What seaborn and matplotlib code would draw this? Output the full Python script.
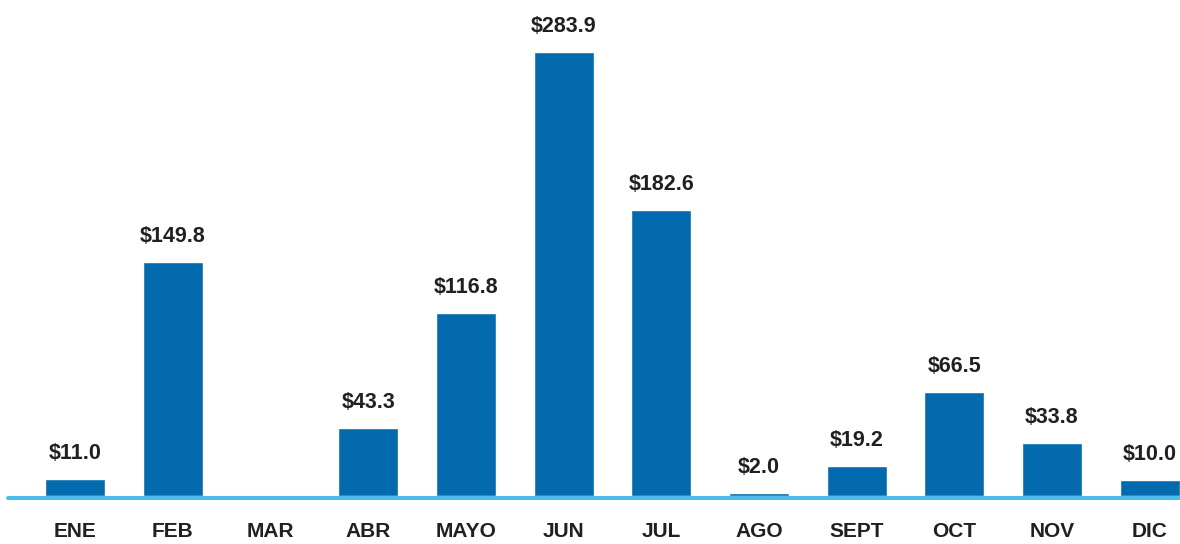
import numpy as np
import pandas as pd
import matplotlib
matplotlib.use("Agg")
import matplotlib.pyplot as plt
import seaborn as sns
from matplotlib import font_manager

months = ["ENE", "FEB", "MAR", "ABR", "MAYO", "JUN", "JUL", "AGO", "SEPT", "OCT", "NOV", "DIC"]
values = [11.0, 149.8, np.nan, 43.3, 116.8, 283.9, 182.6, 2.0, 19.2, 66.5, 33.8, 10.0]

sns.set_style("white")
names = {f.name for f in font_manager.fontManager.ttflist}
fam = [f for f in ["Liberation Sans Narrow", "Liberation Sans", "DejaVu Sans"] if f in names]
plt.rcParams['font.family'] = fam

bar_color = "#036BAD"
line_color = "#4CBDEA"
text_color = "#231F20"

df = pd.DataFrame({"month": months, "value": values})

fig = plt.figure(figsize=(11.8, 5.44), dpi=100)
ax = fig.add_axes([8/1180, 48/544, 1 - 8/1180, 496/544])
sns.barplot(data=df, x="month", y="value", color=bar_color, saturation=1, width=0.614, ax=ax)

ax.set_xlim(-0.686, 11.31)
ax.set_ylim(0, 317.1)
ax.axhline(-1.3, color=line_color, lw=2.9, zorder=5, clip_on=False)
for s in ax.spines.values():
    s.set_visible(False)
ax.set_yticks([])
ax.set_xlabel("")
ax.set_ylabel("")
ax.tick_params(axis="x", length=0, pad=19, labelsize=15, labelcolor=text_color)
for lab in ax.get_xticklabels():
    lab.set_fontweight("bold")

for i, v in enumerate(values):
    if np.isnan(v):
        continue
    ax.annotate(f"${v:.1f}", xy=(i, v), xytext=(0, 14.5), textcoords="offset points",
                ha="center", va="baseline", fontsize=15.5, fontweight="bold", color=text_color,
                annotation_clip=False)

fig.savefig("out.png", dpi=100)
